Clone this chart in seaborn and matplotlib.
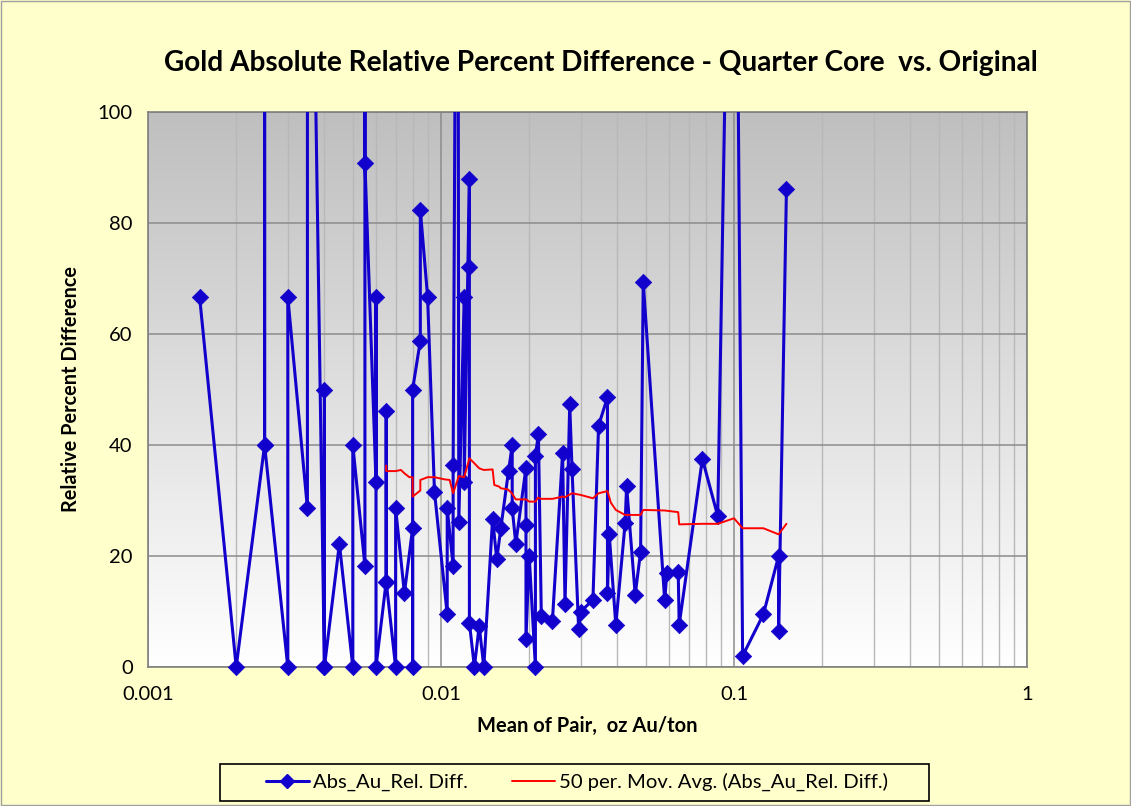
import numpy as np
import pandas as pd
import seaborn as sns
import matplotlib
matplotlib.use("Agg")
import matplotlib.pyplot as plt
from matplotlib.colors import LinearSegmentedColormap
from matplotlib.lines import Line2D

# mean of pair (oz Au/ton) and absolute relative percent difference, in sheet order
mean_pair = [0.0015, 0.002, 0.0025, 0.0025, 0.0025, 0.003, 0.003, 0.0035, 0.0035, 0.004,
             0.004, 0.004, 0.0045, 0.005, 0.005, 0.0055, 0.0055, 0.0055, 0.006, 0.006,
             0.006, 0.0065, 0.0065, 0.0065, 0.007, 0.007, 0.0075, 0.008, 0.008, 0.008,
             0.0085, 0.0085, 0.009, 0.0095, 0.0105, 0.0105, 0.011, 0.011, 0.0114, 0.0115,
             0.012, 0.012, 0.0125, 0.0125, 0.0125, 0.013, 0.0135, 0.014, 0.015, 0.0155,
             0.016, 0.017, 0.0175, 0.0175, 0.018, 0.0195, 0.0195, 0.0195, 0.02, 0.021,
             0.021, 0.0215, 0.022, 0.024, 0.026, 0.0265, 0.0275, 0.028, 0.0295, 0.030,
             0.033, 0.0345, 0.037, 0.037, 0.0375, 0.0395, 0.0425, 0.043, 0.046, 0.048,
             0.049, 0.058, 0.059, 0.0645, 0.065, 0.078, 0.088, 0.1, 0.107, 0.126,
             0.142, 0.142, 0.151]
rel_diff = [66.7, 0, 40, 200, 40, 0, 66.7, 28.6, 200, 0,
            50, 0, 22.2, 0, 40, 18.2, 200, 90.9, 33.3, 66.7,
            0, 15.4, 46.2, 15.4, 0, 28.6, 13.3, 25, 0, 50,
            58.8, 82.4, 66.7, 31.6, 9.5, 28.6, 18.2, 36.4, 200, 26.1,
            66.7, 33.3, 88.0, 72.0, 8.0, 0, 7.4, 0, 26.7, 19.4,
            25.0, 35.3, 40.0, 28.6, 22.2, 35.9, 25.6, 5.1, 20.0, 0,
            38.1, 41.9, 9.1, 8.3, 38.5, 11.3, 47.3, 35.7, 6.8, 10.0,
            12.1, 43.5, 48.6, 13.3, 24.0, 7.6, 25.9, 32.6, 13.0, 20.8,
            69.4, 12.0, 17.0, 17.2, 7.6, 37.5, 27.2, 200, 2.0, 9.5,
            20.0, 6.4, 86.1]

# 50 period moving average trendline
ma_x = [0.0065, 0.0065, 0.007, 0.0073, 0.0075, 0.0078, 0.008, 0.008, 0.0085, 0.0085,
        0.009, 0.0095, 0.0103, 0.0107, 0.011, 0.0115, 0.012, 0.0125, 0.013, 0.0135,
        0.014, 0.015, 0.0152, 0.0158, 0.016, 0.0169, 0.0174, 0.018, 0.0195, 0.02,
        0.021, 0.0214, 0.022, 0.024, 0.026, 0.0265, 0.028, 0.030, 0.033, 0.0345,
        0.037, 0.038, 0.0395, 0.0425, 0.048, 0.049, 0.058, 0.0645, 0.065, 0.078,
        0.088, 0.1, 0.107, 0.126, 0.142, 0.151]
ma_y = [36.3, 35.3, 35.3, 35.5, 34.9, 34.2, 34.2, 30.7, 31.8, 33.7,
        34.2, 34.2, 33.8, 33.7, 31.3, 34.4, 34.2, 37.6, 36.7, 35.8,
        35.5, 35.6, 32.8, 32.5, 32.2, 32.0, 31.4, 30.2, 30.2, 29.8,
        29.8, 30.5, 30.3, 30.3, 30.7, 30.6, 31.3, 31.0, 30.4, 31.3,
        31.7, 29.6, 28.3, 27.4, 27.4, 28.3, 28.2, 27.9, 25.7, 25.8,
        25.8, 26.8, 25.0, 25.0, 23.9, 25.8]

y_ticks = [0, 20, 40, 60, 80, 100]
x_ticks = [0.001, 0.01, 0.1, 1]
x_tick_labels = ["0.001", "0.01", "0.1", "1"]

df = pd.DataFrame({"mean": mean_pair, "rpd": rel_diff})
ma = pd.DataFrame({"mean": ma_x, "avg": ma_y})

BLUE = "#1200CC"
RED = "#FF0000"
BG = "#FFFFCC"

sns.set_style("white")
plt.rcParams["font.family"] = ["Lato", "DejaVu Sans"]
plt.rcParams["text.color"] = "black"
plt.rcParams["axes.labelcolor"] = "black"
plt.rcParams["xtick.color"] = "black"
plt.rcParams["ytick.color"] = "black"

fig = plt.figure(figsize=(11.31, 8.06), dpi=100, facecolor=BG)
pos = [148 / 1131, 1 - 667 / 806, (1027 - 148) / 1131, (667 - 112) / 806]

# gradient plot area behind the data axes
bg_ax = fig.add_axes(pos, zorder=0)
grad = LinearSegmentedColormap.from_list("g", ["#FFFFFF", "#BFBFBF"])
bg_ax.imshow(np.linspace(0, 1, 256).reshape(-1, 1), cmap=grad, aspect="auto",
             origin="lower", extent=[0, 1, 0, 1])
bg_ax.set_axis_off()

ax = fig.add_axes(pos, zorder=1)
ax.patch.set_alpha(0)

sns.lineplot(data=df, x="mean", y="rpd", sort=False, estimator=None, ax=ax,
             color=BLUE, lw=2.2, zorder=3, legend=False)
sns.scatterplot(data=df[df["rpd"] <= 100], x="mean", y="rpd", marker="D", s=70,
                color=BLUE, edgecolor=BLUE, linewidth=0.5, ax=ax, clip_on=False,
                zorder=4, legend=False)
sns.lineplot(data=ma, x="mean", y="avg", sort=False, estimator=None, ax=ax,
             color=RED, lw=1.4, zorder=5, legend=False)

ax.set_xscale("log")
ax.set_xlim(0.001, 1)
ax.set_ylim(0, 100)
ax.set_yticks(y_ticks)
ax.set_xticks(x_ticks)
ax.set_xticklabels(x_tick_labels)
ax.xaxis.set_minor_locator(matplotlib.ticker.LogLocator(base=10, subs=np.arange(2, 10), numticks=20))
ax.xaxis.set_minor_formatter(matplotlib.ticker.NullFormatter())
ax.grid(True, which="major", axis="both", color="#8C8C8C", lw=1.1)
ax.grid(True, which="minor", axis="x", color="#B8B8B8", lw=1.0)
ax.set_axisbelow(True)
ax.tick_params(axis="both", which="major", length=6, width=1, color="#808080",
               labelsize=14.5, pad=5, direction="out")
ax.tick_params(axis="x", which="minor", length=0)
ax.tick_params(axis="x", pad=8)
for side, sp in ax.spines.items():
    sp.set_color("#808080")
    sp.set_linewidth(1.2)

ax.set_xlabel("Mean of Pair,  oz Au/ton", fontsize=14.5, fontweight="bold", labelpad=9)
ax.set_ylabel("Relative Percent Difference", fontsize=14.3, fontweight="bold", labelpad=12)

fig.text(601 / 1131, 1 - 63 / 806, "Gold Absolute Relative Percent Difference - Quarter Core  vs. Original",
         ha="center", va="center", fontsize=20.2, fontweight="bold")

# legend box drawn separately so its padding can match the original
fig.patches.append(plt.Rectangle((220 / 1131, 1 - 801 / 806), 709 / 1131, 37 / 806,
                                 transform=fig.transFigure, facecolor=BG,
                                 edgecolor="black", lw=1.2, zorder=2))
handles = [Line2D([], [], color=BLUE, lw=2.2, marker="D", markersize=7),
           Line2D([], [], color=RED, lw=1.4)]
labels = ["Abs_Au_Rel. Diff.", "50 per. Mov. Avg. (Abs_Au_Rel. Diff.)"]
leg = fig.legend(handles, labels, loc="center left", bbox_to_anchor=(266 / 1131, 1 - 782 / 806),
                 ncol=2, frameon=False, fontsize=14.6, handlelength=2.1, columnspacing=2.2,
                 borderpad=0, handletextpad=0.2, borderaxespad=0)
leg.set_zorder(3)

fig.patches.append(plt.Rectangle((0.001, 0.001), 0.998, 0.998, transform=fig.transFigure,
                                 fill=False, edgecolor="#A0A0A0", lw=1))

fig.savefig("out.png", dpi=100, facecolor=BG)
